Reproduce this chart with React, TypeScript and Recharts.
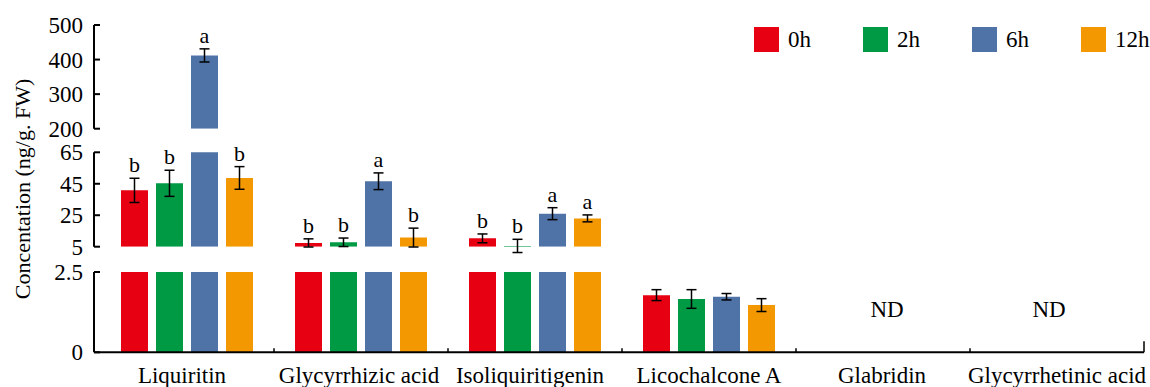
import React from 'react';
import { BarChart, Bar, XAxis, YAxis, ErrorBar, LabelList } from 'recharts';

const categories = ['Liquiritin', 'Glycyrrhizic acid', 'Isoliquiritigenin', 'Licochalcone A', 'Glabridin', 'Glycyrrhetinic acid'];
const seriesNames = ['0h', '2h', '6h', '12h'];
const values0h = [40.8, 7.4, 10.3, 1.78, null, null];
const errors0h = [7.7, 2.6, 2.8, 0.17, null, null];
const letters0h = ['b', 'b', 'b', '', '', ''];
const values2h = [45.3, 7.8, 5.5, 1.66, null, null];
const errors2h = [8.3, 2.7, 4.2, 0.29, null, null];
const letters2h = ['b', 'b', 'b', '', '', ''];
const values6h = [412, 46.6, 26.0, 1.73, null, null];
const errors6h = [19, 5.3, 3.8, 0.1, null, null];
const letters6h = ['a', 'a', 'a', '', '', ''];
const values12h = [48.7, 10.8, 23.0, 1.47, null, null];
const errors12h = [7.2, 6.0, 2.2, 0.2, null, null];
const letters12h = ['b', 'b', 'a', '', '', ''];
const ndLabels = ['', '', '', '', 'ND', 'ND'];

const topTicks = [200, 300, 400, 500];
const midTicks = [5, 25, 45, 65];
const botTicks = [0, 2.5];

const allValues = [values0h, values2h, values6h, values12h];
const allErrors = [errors0h, errors2h, errors6h, errors12h];
const allLetters = [letters0h, letters2h, letters6h, letters12h];
const colors = ['#E60012', '#009944', '#4F73A7', '#F39800'];

// layout-only constants
const W = 1150;
const H = 387;
const FONT = "'Liberation Serif', 'Times New Roman', serif";
const FS = 22;
const TICK_FS = 23;
const PLOT_LEFT = 94;
const PLOT_RIGHT = 1144;
const PAD_LEFT = 6;
const BAND = (PLOT_RIGHT - PLOT_LEFT - PAD_LEFT) / categories.length;
const LABEL_SHIFT = [-5, -2, -5, 0, -1, 0];
const ND_SHIFT = [0, 0, 0, 0, 4, -8];

const panels = [
  { key: 'top', plotTop: 25, plotBottom: 128.7, domain: [200, 500], ticks: topTicks },
  { key: 'mid', plotTop: 152.3, plotBottom: 246.7, domain: [5, 65], ticks: midTicks },
  { key: 'bot', plotTop: 272, plotBottom: 352.3, domain: [0, 2.5], ticks: botTicks },
];

function panelOf(v: number) {
  if (v > 65) return 'top';
  if (v > 2.5) return 'mid';
  return 'bot';
}

function panelData(panel: any) {
  return categories.map((name, i) => {
    const row: any = { name };
    for (let s = 0; s < 4; s++) {
      const v = allValues[s][i];
      const reaches = v != null && v > panel.domain[0];
      const own = reaches && panelOf(v as number) === panel.key;
      row['v' + s] = reaches ? v : null;
      row['e' + s] = own ? allErrors[s][i] : null;
      row['l' + s] = own ? allLetters[s][i] : '';
    }
    return row;
  });
}

const makeLetter = (s: number, panel: any) => (props: any) => {
  const idx = props.index;
  const v = allValues[s][idx];
  const letter = allLetters[s][idx];
  if (v == null || !letter) return null;
  if (panelOf(v) !== panel.key) return null;
  const vb = props.viewBox || {};
  const x = props.x ?? vb.x;
  const y = props.y ?? vb.y;
  const w = props.width ?? vb.width;
  const ppu = (panel.plotBottom - panel.plotTop) / (panel.domain[1] - panel.domain[0]);
  const ly = y - (allErrors[s][idx] || 0) * ppu - 6;
  return (
    <text x={x + w / 2} y={ly} textAnchor="middle" fontFamily={FONT} fontSize={FS} fill="#000">
      {letter}
    </text>
  );
};

const XTick = (props: any) => {
  const { x, y, payload } = props;
  const idx = props.index ?? categories.indexOf(payload.value);
  const last = idx === categories.length - 1;
  const bx = x + BAND / 2;
  return (
    <g>
      <text x={x + LABEL_SHIFT[idx]} y={y + 31} textAnchor="middle" fontFamily={FONT} fontSize={TICK_FS} fill="#000">
        {payload.value}
      </text>
      <line x1={bx} x2={bx} y1={y} y2={y - (last ? 11 : 4)} stroke="#000" strokeWidth={1.5} />
      {ndLabels[idx] ? (
        <text x={x + ND_SHIFT[idx]} y={y - 35} textAnchor="middle" fontFamily={FONT} fontSize={TICK_FS} fill="#000">
          {ndLabels[idx]}
        </text>
      ) : null}
    </g>
  );
};

function Panel({ panel }: { panel: any }) {
  const isBot = panel.key === 'bot';
  const margin = {
    top: panel.plotTop,
    bottom: isBot ? H - panel.plotBottom - 30 : H - panel.plotBottom,
    left: PLOT_LEFT - 60,
    right: W - PLOT_RIGHT,
  };
  return (
    <div style={{ position: 'absolute', left: 0, top: 0 }}>
      <BarChart width={W} height={H} data={panelData(panel)} margin={margin} barSize={27} barGap={8}>
        <XAxis
          dataKey="name"
          hide={!isBot}
          height={30}
          padding={{ left: PAD_LEFT, right: 0 }}
          axisLine={{ stroke: '#000', strokeWidth: 2 }}
          tickLine={false}
          tickSize={0}
          tickMargin={0}
          interval={0}
          tick={<XTick />}
        />
        <YAxis
          width={60}
          domain={panel.domain}
          ticks={panel.ticks}
          allowDataOverflow
          type="number"
          axisLine={{ stroke: '#000', strokeWidth: 2 }}
          tickLine={{ stroke: '#000', strokeWidth: 2 }}
          tickSize={-6}
          tickMargin={17}
          tick={{ fill: '#000', fontFamily: FONT, fontSize: TICK_FS }}
          interval={0}
        />
        {seriesNames.map((n, s) => (
          <Bar key={n} dataKey={'v' + s} name={n} fill={colors[s]} isAnimationActive={false}>
            <ErrorBar dataKey={'e' + s} width={5} stroke="#000" strokeWidth={1.5} direction="y" />
            <LabelList dataKey={'l' + s} content={makeLetter(s, panel)} />
          </Bar>
        ))}
      </BarChart>
    </div>
  );
}

export default function App() {
  return (
    <div style={{ position: 'absolute', left: 0, top: 0, width: W, height: H, background: '#fff', overflow: 'hidden' }}>
      {panels.map((p) => (
        <Panel key={p.key} panel={p} />
      ))}
      <svg width={W} height={H} style={{ position: 'absolute', left: 0, top: 0, pointerEvents: 'none' }}>
        <text
          x={22}
          y={189}
          transform="rotate(-90 22 189)"
          textAnchor="middle"
          dominantBaseline="central"
          fontFamily={FONT}
          fontSize={FS}
          fill="#000"
        >
          Concentation (ng/g. FW)
        </text>
      </svg>
      <div style={{ position: 'absolute', left: 754, top: 27, display: 'flex', fontFamily: FONT, fontSize: TICK_FS }}>
        {seriesNames.map((n, s) => (
          <div key={n} style={{ width: 109, display: 'flex', alignItems: 'center', height: 25 }}>
            <div style={{ width: 25, height: 25, background: colors[s], marginRight: 9 }} />
            <span style={{ lineHeight: '25px', color: '#000' }}>{n}</span>
          </div>
        ))}
      </div>
    </div>
  );
}
